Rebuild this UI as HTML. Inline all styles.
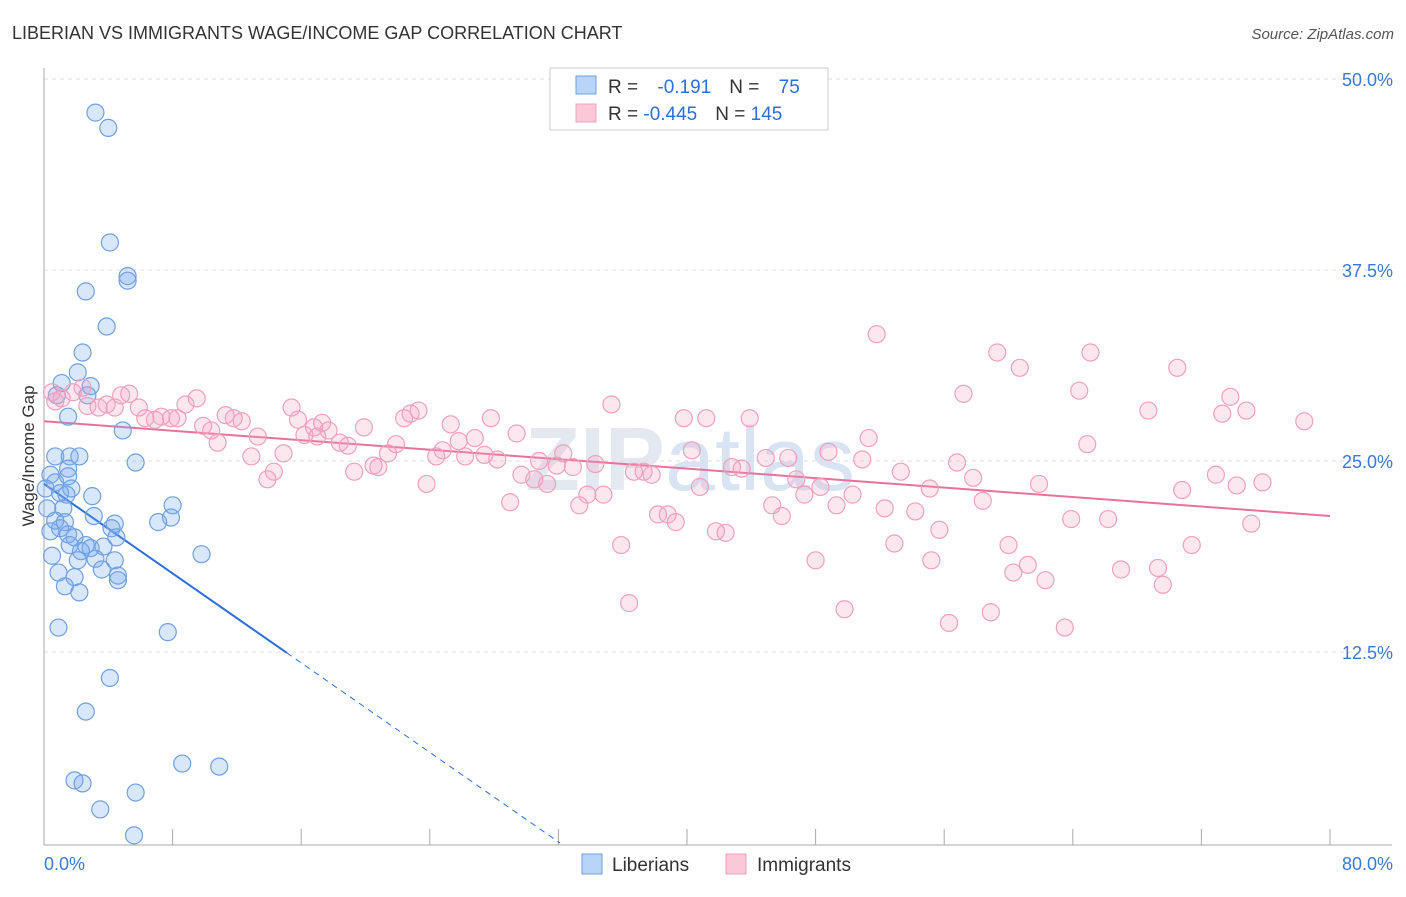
<!DOCTYPE html>
<html><head><meta charset="utf-8"><style>
body{margin:0;background:#fff;font-family:"Liberation Sans",sans-serif;}
svg text{font-family:"Liberation Sans",sans-serif;}
</style></head><body>
<svg id="chart" width="1406" height="892" xmlns="http://www.w3.org/2000/svg">
<text x="12" y="39" font-size="18" fill="#333">LIBERIAN VS IMMIGRANTS WAGE/INCOME GAP CORRELATION CHART</text>
<text x="1394" y="39" font-size="15" fill="#555" text-anchor="end" font-style="italic">Source: ZipAtlas.com</text>
<text x="690" y="490" font-size="90" fill="#e4e8f0" text-anchor="middle" font-weight="bold">ZIP<tspan font-weight="normal" fill="#d8e4f4">atlas</tspan></text>
<text transform="translate(34,456) rotate(-90)" font-size="17" fill="#333" text-anchor="middle">Wage/Income Gap</text>
<g id="grid"></g><g id="axes"></g><g id="lines"></g><g id="pts"></g>
<g>
<rect x="550" y="68" width="278" height="62" fill="#fff" stroke="#ccc"/>
<rect x="576" y="76" width="20" height="18" fill="#b8d4f6" stroke="#6fa0e0"/>
<text x="608" y="93" font-size="19" fill="#333">R = <tspan fill="#2a6fdb" dx="14">-0.191</tspan><tspan dx="18" fill="#333">N = </tspan><tspan dx="14" fill="#2a6fdb">75</tspan></text>
<rect x="576" y="104" width="20" height="18" fill="#fbc8d8" stroke="#f0a0bc"/>
<text x="608" y="120" font-size="19" fill="#333">R = <tspan fill="#2a6fdb">-0.445</tspan><tspan dx="18" fill="#333">N = </tspan><tspan fill="#2a6fdb">145</tspan></text>
</g>
<g>
<rect x="582" y="854" width="20" height="20" fill="#b8d4f6" stroke="#6fa0e0"/>
<text x="612" y="871" font-size="19" fill="#333">Liberians</text>
<rect x="726" y="854" width="20" height="20" fill="#fbc8d8" stroke="#f0a0bc"/>
<text x="757" y="871" font-size="19" fill="#333">Immigrants</text>
</g>
</svg>
<script>
const blueX=[3.2,4.0,4.1,5.2,5.2,2.6,3.9,2.4,2.1,1.1,2.9,0.8,2.7,1.5,4.9,0.7,1.6,2.2,5.7,1.5,1.5,0.4,0.7,0.1,1.7,1.0,1.4,3.0,8.0,0.2,1.2,3.1,7.9,7.1,0.7,1.3,4.4,4.2,1.0,0.4,1.5,1.9,4.5,1.6,2.6,2.9,3.7,2.3,9.8,0.5,3.2,4.4,2.1,0.9,3.6,4.6,1.9,4.6,1.3,2.2,0.9,7.7,4.1,2.6,8.6,10.9,1.9,2.4,5.7,3.5,5.6];
const blueY=[47.8,46.8,39.3,37.1,36.8,36.1,33.8,32.1,30.8,30.1,29.9,29.3,29.3,27.9,27.0,25.3,25.3,25.3,24.9,24.5,24.0,24.1,23.6,23.2,23.2,22.9,22.8,22.7,22.1,21.9,21.9,21.4,21.3,21.0,21.1,21.0,20.9,20.6,20.6,20.4,20.2,20.0,20.0,19.5,19.5,19.3,19.4,19.1,18.9,18.8,18.6,18.5,18.5,17.7,17.9,17.5,17.4,17.2,16.8,16.4,14.1,13.8,10.8,8.6,5.2,5.0,4.1,3.9,3.3,2.2,0.5];
const pinkX=[51.8,59.3,65.1,60.7,70.5,57.2,64.4,73.8,68.7,73.3,74.8,78.4,64.9,72.9,74.2,75.8,70.8,61.9,63.9,66.2,75.1,71.4,60.0,61.2,69.3,67.0,60.3,62.3,69.6,58.9,56.3,63.5,49.8,36.4,35.9,55.2,52.9,48.0,55.7,58.4,56.8,57.8,53.3,55.1,54.2,52.3,50.9,51.3,50.3,49.3,48.8,48.3,47.3,46.8,46.3,45.9,45.3,44.9,43.9,43.4,42.8,42.4,41.8,41.2,40.3,40.8,39.8,39.3,38.8,38.2,37.8,37.3,36.7,35.3,34.8,33.8,33.3,34.3,32.9,32.3,31.9,31.3,30.8,30.5,29.7,29.4,29.0,28.2,27.8,27.4,26.8,26.2,25.8,25.3,24.8,24.4,23.8,23.3,22.8,22.4,21.9,21.4,20.8,20.5,19.9,19.3,18.9,18.4,17.7,17.3,17.0,16.8,16.2,15.8,15.4,14.9,14.3,13.9,13.3,12.9,12.3,11.8,11.3,10.8,10.4,9.9,9.5,8.8,8.3,7.9,7.3,6.9,6.3,5.9,5.3,4.8,4.4,3.9,3.4,2.7,2.4,1.8,1.1,0.7,0.5];
const pinkY=[33.3,32.1,32.1,31.1,31.1,29.4,29.6,29.2,28.3,28.1,28.3,27.6,26.1,24.1,23.4,23.6,23.1,23.5,21.2,21.2,20.9,19.5,19.5,18.2,18.0,17.9,17.7,17.2,16.9,15.1,14.4,14.1,15.3,15.7,19.5,18.5,19.6,18.5,20.5,22.4,24.9,23.9,24.3,23.2,21.7,21.9,25.1,26.5,22.8,22.1,25.6,23.3,22.8,23.8,25.2,21.4,22.1,25.2,27.8,24.5,24.6,20.3,20.4,27.8,25.7,23.3,27.8,21.0,21.5,21.5,24.1,24.3,24.3,28.7,22.8,22.8,22.1,24.8,24.6,25.5,24.7,23.5,25.0,23.8,24.1,26.8,22.3,25.1,27.8,25.4,26.5,25.3,26.3,27.4,25.7,25.3,23.5,28.3,28.1,27.8,26.1,25.5,24.6,24.7,27.2,24.3,26.0,26.2,27.0,27.5,26.6,27.2,26.7,27.7,28.5,25.5,24.3,23.8,26.6,25.3,27.6,27.8,28.0,26.2,27.0,27.3,29.1,28.7,27.8,27.8,27.9,27.7,27.8,28.5,29.4,29.3,28.5,28.7,28.5,28.6,29.8,29.5,29.1,28.9,29.5];
const yTicks=[12.5,25.0,37.5,50.0];
const xTickLabels=["0.0%","80.0%"];
const blueFit=[23.5,-0.732];
const pinkFit=[27.6,-0.0775];
const X=v=>44+v*(1286/80), Y=v=>843-v*15.28;
const NS="http://www.w3.org/2000/svg";
function mk(p,t,a){const e=document.createElementNS(NS,t);for(const k in a)e.setAttribute(k,a[k]);document.getElementById(p).appendChild(e);return e;}
yTicks.forEach(t=>{
 const g=mk('grid','line',{x1:44,x2:1392,y1:Y(t),y2:Y(t),stroke:'#ddd','stroke-dasharray':'4,4'});
 
 
 const l=mk('grid','text',{x:1393,y:Y(t)+7,'font-size':18,fill:'#3b78d8','text-anchor':'end'});
 l.textContent=t.toFixed(1)+'%';
 
 
});
mk('axes','line',{x1:44,x2:44,y1:68,y2:845,stroke:'#aaa'});
const xa=mk('axes','line',{x1:44,x2:1392,y1:845,y2:845,stroke:'#aaa'});


for(let i=0;i<=10;i++){mk('axes','line',{x1:X(i*8),x2:X(i*8),y1:829,y2:845,stroke:'#aaa'});}
const x0=mk('axes','text',{x:44,y:870,'font-size':18,fill:'#3b78d8'});x0.textContent=xTickLabels[0];


const x1=mk('axes','text',{x:1393,y:870,'font-size':18,fill:'#3b78d8','text-anchor':'end'});x1.textContent=xTickLabels[1];


blueX.forEach((v,i)=>{const c=mk('pts','circle',{cx:X(v),cy:Y(blueY[i]),r:8.5,fill:'rgba(120,170,240,0.28)',stroke:'#6fa0e0','stroke-width':1.2});
 
 });
pinkX.forEach((v,i)=>{const c=mk('pts','circle',{cx:X(v),cy:Y(pinkY[i]),r:8.5,fill:'rgba(245,160,190,0.25)',stroke:'#f0a0bc','stroke-width':1.2});
 
 });
const bz=-blueFit[0]/blueFit[1];
const bl=mk('lines','line',{x1:X(0),y1:Y(blueFit[0]),x2:X(15.1),y2:Y(blueFit[0]+blueFit[1]*15.1),stroke:'#2a6fdb','stroke-width':2});


const bd=mk('lines','line',{x1:X(15.1),y1:Y(blueFit[0]+blueFit[1]*15.1),x2:X(bz),y2:Y(0),stroke:'#2a6fdb','stroke-width':1,'stroke-dasharray':'6,5'});


const pl=mk('lines','line',{x1:X(0),y1:Y(pinkFit[0]),x2:X(80),y2:Y(pinkFit[0]+pinkFit[1]*80),stroke:'#e8729a','stroke-width':2});


</script>
</body></html>
